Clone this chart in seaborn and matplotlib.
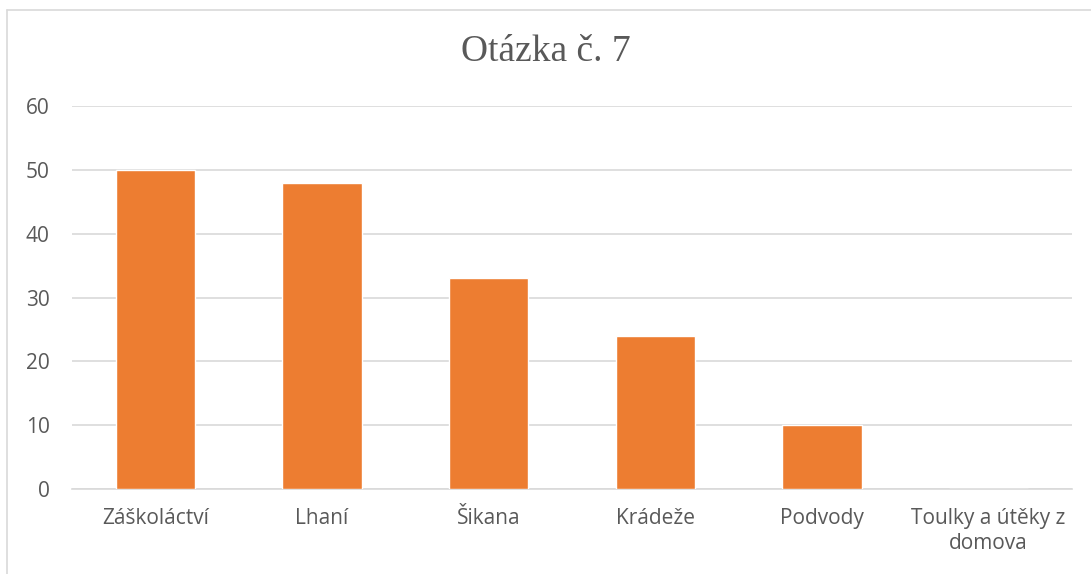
import matplotlib
matplotlib.use("Agg")
import matplotlib.pyplot as plt
import seaborn as sns
import pandas as pd
import numpy as np
from matplotlib.lines import Line2D

categories = ["Záškoláctví", "Lhaní", "Šikana", "Krádeže", "Podvody", "Toulky a útěky z\ndomova"]
values = [50, 48, 33, 24, 10, 0]
y_ticks = [0, 10, 20, 30, 40, 50, 60]

sns.set_style("white")
plt.rcParams['font.family'] = ['Open Sans', 'DejaVu Sans']

df = pd.DataFrame({"kategorie": categories, "pocet": values})

fig = plt.figure(figsize=(10.91, 5.74), dpi=100)
ax = fig.add_axes([72 / 1091, 1 - 489 / 574, 1000 / 1091, (489 - 106) / 574])

sns.barplot(data=df, x="kategorie", y="pocet", color="#ED7D31", saturation=1,
            width=0.475, ax=ax, zorder=3)

ax.set_ylim(0, 60)
ax.set_xlim(-0.5, len(categories) - 0.5)
ax.set_yticks(y_ticks)
ax.yaxis.grid(True, color="#D9D9D9", linewidth=1.2, zorder=0)
ax.set_axisbelow(True)
for s in ["top", "right", "left"]:
    ax.spines[s].set_visible(False)
ax.spines["bottom"].set_color("#D9D9D9")
ax.spines["bottom"].set_linewidth(1.2)

ax.tick_params(axis="y", length=0, pad=16, labelsize=15, labelcolor="#595959")
ax.tick_params(axis="x", which="major", length=0, pad=14, labelsize=15, labelcolor="#595959")
for lbl in ax.get_xticklabels():
    lbl.set_linespacing(1.25)
ax.set_xticks(np.arange(-0.5, len(categories)), minor=True)
ax.tick_params(axis="x", which="minor", length=4, color="#D9D9D9", width=1.2)
ax.set_xlabel("")
ax.set_ylabel("")

fig.text(0.5, 1 - 52 / 574, "Otázka č. 7", ha="center", va="center",
         fontsize=27, color="#595959", family="Liberation Serif")

# chart frame (left and top edges visible)
fig.add_artist(Line2D([7 / 1091, 7 / 1091], [0, 1 - 10 / 574], color="#D9D9D9", linewidth=1.2))
fig.add_artist(Line2D([7 / 1091, 1], [1 - 10 / 574, 1 - 10 / 574], color="#D9D9D9", linewidth=1.2))

fig.savefig("out.png", dpi=100)
